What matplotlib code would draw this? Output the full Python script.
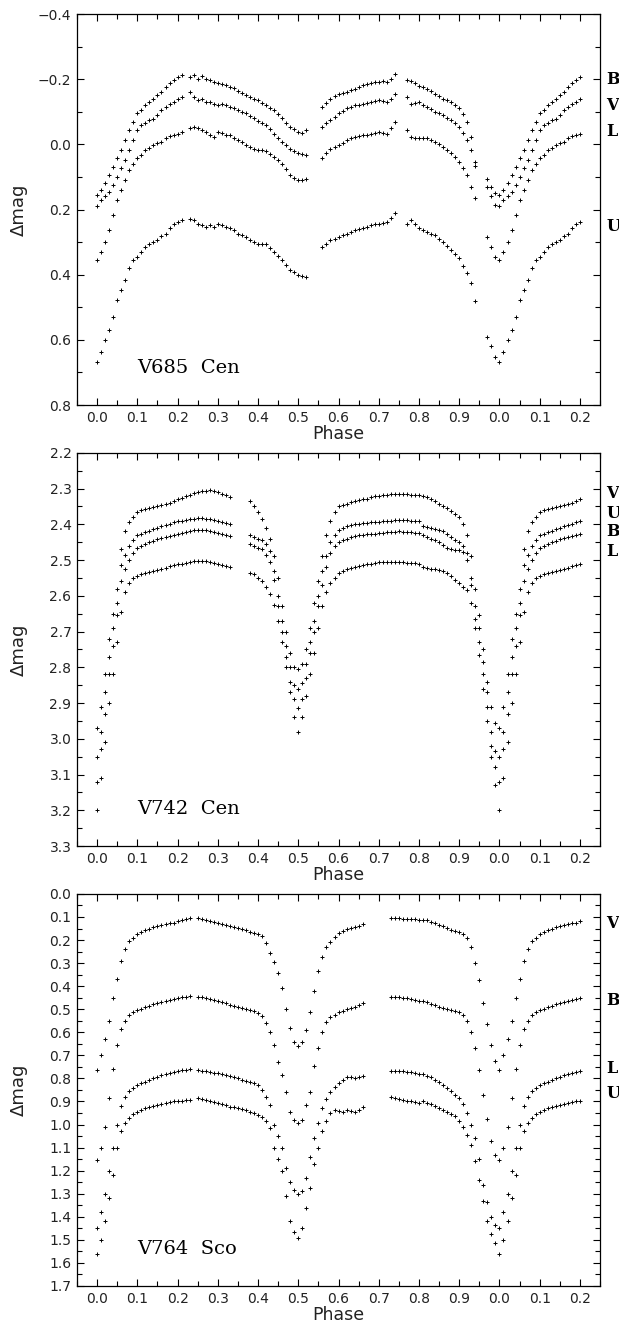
import numpy as np
import matplotlib
matplotlib.use("Agg")
import matplotlib.pyplot as plt
from matplotlib.ticker import MultipleLocator, FixedLocator

# ---- V685 Cen ----
ph_685 = [0.00, 0.01, 0.02, 0.03, 0.04, 0.05, 0.06, 0.07, 0.08, 0.09, 0.10,
          0.11, 0.12, 0.13, 0.14, 0.15, 0.16, 0.17, 0.18, 0.19, 0.20, 0.21,
          0.23, 0.24, 0.25, 0.26, 0.27, 0.28, 0.29, 0.30, 0.31, 0.32, 0.33,
          0.34, 0.35, 0.36, 0.37, 0.38, 0.39, 0.40, 0.41, 0.42, 0.43, 0.44,
          0.45, 0.46, 0.47, 0.48, 0.49, 0.50, 0.51, 0.52,
          0.56, 0.57, 0.58, 0.59, 0.60, 0.61, 0.62, 0.63, 0.64, 0.65, 0.66,
          0.67, 0.68, 0.69, 0.70, 0.71, 0.72, 0.73, 0.74,
          0.77, 0.78, 0.79, 0.80, 0.81, 0.82, 0.83, 0.84, 0.85, 0.86, 0.87,
          0.88, 0.89, 0.90, 0.91, 0.92, 0.93, 0.94,
          0.97, 0.98, 0.99]
B_685 = [0.156, 0.140, 0.120, 0.095, 0.070, 0.043, 0.018, -0.013, -0.043, -0.069, -0.095,
         -0.105, -0.120, -0.130, -0.140, -0.150, -0.160, -0.176, -0.187, -0.197, -0.207, -0.212,
         -0.207, -0.212, -0.200, -0.210, -0.200, -0.197, -0.190, -0.187, -0.185, -0.182, -0.177,
         -0.172, -0.165, -0.157, -0.150, -0.146, -0.140, -0.135, -0.128, -0.120, -0.112, -0.105,
         -0.092, -0.080, -0.067, -0.054, -0.046, -0.038, -0.036, -0.043,
         -0.115, -0.128, -0.140, -0.148, -0.156, -0.158, -0.161, -0.166, -0.171, -0.176, -0.182,
         -0.185, -0.187, -0.190, -0.192, -0.193, -0.190, -0.200, -0.215,
         -0.197, -0.195, -0.188, -0.180, -0.176, -0.171, -0.163, -0.156, -0.148, -0.140, -0.135,
         -0.130, -0.120, -0.110, -0.092, -0.069, -0.023, 0.055,
         0.105, 0.130, 0.150]
V_685 = [0.190, 0.170, 0.160, 0.146, 0.125, 0.100, 0.074, 0.049, 0.018, -0.013, -0.043,
         -0.059, -0.064, -0.074, -0.079, -0.090, -0.105, -0.115, -0.125, -0.130, -0.140, -0.146,
         -0.160, -0.146, -0.135, -0.140, -0.130, -0.130, -0.125, -0.120, -0.125, -0.120, -0.115,
         -0.110, -0.105, -0.100, -0.095, -0.088, -0.080, -0.072, -0.066, -0.060, -0.047, -0.033,
         -0.020, -0.008, 0.003, 0.013, 0.020, 0.028, 0.030, 0.033,
         -0.054, -0.064, -0.074, -0.085, -0.095, -0.103, -0.110, -0.115, -0.120, -0.122, -0.125,
         -0.128, -0.130, -0.133, -0.136, -0.134, -0.130, -0.140, -0.156,
         -0.146, -0.125, -0.128, -0.130, -0.122, -0.115, -0.108, -0.100, -0.095, -0.090, -0.082,
         -0.074, -0.064, -0.054, -0.035, -0.013, 0.018, 0.065,
         0.130, 0.160, 0.185]
L_685 = [0.355, 0.330, 0.300, 0.263, 0.217, 0.171, 0.140, 0.110, 0.079, 0.059, 0.043,
         0.033, 0.018, 0.010, 0.003, -0.005, -0.008, -0.018, -0.025, -0.028, -0.033, -0.038,
         -0.049, -0.054, -0.049, -0.043, -0.038, -0.028, -0.023, -0.038, -0.035, -0.028, -0.028,
         -0.018, -0.013, -0.008, 0.003, 0.008, 0.013, 0.018, 0.018, 0.020, 0.029, 0.038,
         0.048, 0.059, 0.077, 0.095, 0.103, 0.110, 0.108, 0.105,
         0.043, 0.028, 0.013, 0.008, 0.003, -0.005, -0.013, -0.018, -0.023, -0.025, -0.028,
         -0.030, -0.033, -0.035, -0.038, -0.036, -0.033, -0.050, -0.070,
         -0.043, -0.023, -0.020, -0.018, -0.018, -0.018, -0.013, -0.008, 0.000, 0.008, 0.018,
         0.028, 0.040, 0.054, 0.073, 0.095, 0.130, 0.166,
         0.284, 0.315, 0.345]
U_685 = [0.668, 0.637, 0.600, 0.570, 0.530, 0.478, 0.448, 0.417, 0.380, 0.355, 0.345,
         0.330, 0.315, 0.305, 0.300, 0.294, 0.280, 0.274, 0.258, 0.243, 0.238, 0.233,
         0.228, 0.233, 0.243, 0.248, 0.253, 0.248, 0.253, 0.243, 0.248, 0.253, 0.258,
         0.263, 0.274, 0.279, 0.284, 0.294, 0.300, 0.305, 0.305, 0.305, 0.318, 0.330,
         0.343, 0.355, 0.370, 0.386, 0.393, 0.400, 0.404, 0.407,
         0.315, 0.305, 0.294, 0.289, 0.284, 0.279, 0.274, 0.268, 0.263, 0.260, 0.258,
         0.253, 0.248, 0.245, 0.243, 0.240, 0.238, 0.225, 0.210,
         0.243, 0.233, 0.245, 0.258, 0.263, 0.268, 0.274, 0.279, 0.290, 0.300, 0.312,
         0.325, 0.338, 0.350, 0.373, 0.396, 0.427, 0.480,
         0.590, 0.620, 0.652]

# ---- V742 Cen ----
ph_742 = [0.00, 0.01, 0.02, 0.03, 0.04, 0.05, 0.06, 0.07, 0.08, 0.09, 0.10, 0.11,
          0.12, 0.13, 0.14, 0.15, 0.16, 0.17, 0.18, 0.19, 0.20, 0.21, 0.22, 0.23,
          0.24, 0.25, 0.26, 0.27, 0.28, 0.29, 0.30, 0.31, 0.32, 0.33,
          0.38, 0.39, 0.40, 0.41, 0.42, 0.43, 0.44, 0.45, 0.46, 0.47, 0.48, 0.49,
          0.50, 0.51, 0.52, 0.53, 0.54, 0.55, 0.56, 0.57, 0.58, 0.59, 0.60, 0.61,
          0.62, 0.63, 0.64, 0.65, 0.66, 0.67, 0.68, 0.69, 0.70, 0.71, 0.72, 0.73,
          0.74, 0.75, 0.76, 0.77, 0.78, 0.79, 0.80, 0.81, 0.82, 0.83, 0.84, 0.85,
          0.86, 0.87, 0.88, 0.89, 0.90, 0.91, 0.92, 0.93, 0.94, 0.95, 0.96, 0.97,
          0.98, 0.99]
V_742 = [2.97, 2.91, 2.82, 2.72, 2.65, 2.58, 2.47, 2.42, 2.395, 2.38, 2.365, 2.36,
         2.357, 2.354, 2.352, 2.35, 2.347, 2.344, 2.34, 2.335, 2.33, 2.326, 2.322, 2.318,
         2.313, 2.31, 2.308, 2.306, 2.305, 2.307, 2.31, 2.314, 2.318, 2.323,
         2.335, 2.35, 2.365, 2.385, 2.41, 2.44, 2.49, 2.55, 2.63, 2.70, 2.76, 2.80,
         2.805, 2.79, 2.75, 2.69, 2.62, 2.56, 2.49, 2.43, 2.39, 2.365, 2.35, 2.346,
         2.342, 2.338, 2.335, 2.333, 2.33, 2.328, 2.325, 2.322, 2.32, 2.318, 2.317, 2.316,
         2.315, 2.314, 2.315, 2.316, 2.317, 2.318, 2.318, 2.32, 2.325, 2.33, 2.336, 2.342,
         2.348, 2.355, 2.363, 2.37, 2.379, 2.40, 2.43, 2.49, 2.58, 2.654, 2.75, 2.84,
         2.91, 2.955]
U_742 = [3.05, 2.98, 2.87, 2.77, 2.69, 2.62, 2.515, 2.485, 2.46, 2.445, 2.43, 2.426,
         2.422, 2.418, 2.414, 2.41, 2.406, 2.402, 2.398, 2.395, 2.392, 2.39, 2.388, 2.386,
         2.384, 2.383, 2.383, 2.384, 2.386, 2.388, 2.39, 2.393, 2.396, 2.40,
         2.43, 2.435, 2.44, 2.445, 2.455, 2.475, 2.53, 2.60, 2.67, 2.74, 2.80, 2.85,
         2.86, 2.845, 2.79, 2.73, 2.67, 2.60, 2.53, 2.49, 2.45, 2.43, 2.416, 2.41,
         2.405, 2.402, 2.40, 2.398, 2.397, 2.396, 2.395, 2.394, 2.393, 2.392, 2.391, 2.39,
         2.389, 2.388, 2.388, 2.389, 2.39, 2.39, 2.392, 2.405, 2.408, 2.41, 2.413, 2.416,
         2.42, 2.426, 2.435, 2.443, 2.45, 2.46, 2.48, 2.55, 2.63, 2.69, 2.785, 2.87,
         2.98, 3.035]
B_742 = [3.12, 3.03, 2.93, 2.82, 2.74, 2.655, 2.56, 2.525, 2.50, 2.48, 2.467, 2.46,
         2.455, 2.45, 2.446, 2.442, 2.438, 2.435, 2.432, 2.43, 2.427, 2.424, 2.421, 2.419,
         2.417, 2.416, 2.416, 2.417, 2.419, 2.421, 2.424, 2.426, 2.429, 2.432,
         2.455, 2.46, 2.465, 2.47, 2.485, 2.505, 2.555, 2.63, 2.70, 2.77, 2.84, 2.89,
         2.915, 2.89, 2.83, 2.76, 2.70, 2.63, 2.57, 2.52, 2.48, 2.46, 2.45, 2.445,
         2.44, 2.436, 2.433, 2.43, 2.429, 2.428, 2.427, 2.426, 2.425, 2.424, 2.423, 2.422,
         2.421, 2.42, 2.421, 2.422, 2.423, 2.424, 2.425, 2.43, 2.435, 2.44, 2.445, 2.45,
         2.457, 2.465, 2.47, 2.471, 2.472, 2.477, 2.50, 2.57, 2.665, 2.73, 2.82, 2.91,
         3.02, 3.08]
L_742 = [3.20, 3.11, 3.01, 2.90, 2.82, 2.73, 2.645, 2.59, 2.565, 2.55, 2.545, 2.54,
         2.537, 2.534, 2.53, 2.527, 2.524, 2.521, 2.518, 2.515, 2.512, 2.51, 2.507, 2.505,
         2.503, 2.502, 2.502, 2.503, 2.505, 2.508, 2.511, 2.514, 2.517, 2.52,
         2.535, 2.54, 2.55, 2.56, 2.575, 2.595, 2.625, 2.67, 2.73, 2.80, 2.87, 2.94,
         2.98, 2.94, 2.88, 2.82, 2.76, 2.69, 2.63, 2.59, 2.565, 2.55, 2.537, 2.53,
         2.525, 2.522, 2.52, 2.518, 2.515, 2.512, 2.51, 2.507, 2.505, 2.505, 2.505, 2.505,
         2.505, 2.505, 2.506, 2.507, 2.508, 2.509, 2.51, 2.52, 2.522, 2.524, 2.526, 2.528,
         2.532, 2.537, 2.545, 2.555, 2.565, 2.575, 2.585, 2.62, 2.69, 2.766, 2.86, 2.95,
         3.05, 3.13]

# ---- V764 Sco ----
ph_764 = [0.00, 0.01, 0.02, 0.03, 0.04, 0.05, 0.06, 0.07, 0.08, 0.09, 0.10, 0.11,
          0.12, 0.13, 0.14, 0.15, 0.16, 0.17, 0.18, 0.19, 0.20, 0.21, 0.22, 0.23,
          0.25, 0.26, 0.27, 0.28, 0.29, 0.30, 0.31, 0.32, 0.33, 0.34, 0.35, 0.36,
          0.37, 0.38, 0.39, 0.40, 0.41, 0.42, 0.43, 0.44, 0.45, 0.46, 0.47, 0.48,
          0.49, 0.50, 0.51, 0.52, 0.53, 0.54, 0.55, 0.56, 0.57, 0.58, 0.59, 0.60,
          0.61, 0.62, 0.63, 0.64, 0.65, 0.66,
          0.73, 0.74, 0.75, 0.76, 0.77, 0.78, 0.79, 0.80, 0.81, 0.82, 0.83, 0.84,
          0.85, 0.86, 0.87, 0.88, 0.89, 0.90, 0.91, 0.92, 0.93, 0.94, 0.95, 0.96,
          0.97, 0.98, 0.99]
V_764 = [0.765, 0.70, 0.63, 0.55, 0.45, 0.37, 0.29, 0.24, 0.205, 0.19, 0.175, 0.165,
         0.157, 0.150, 0.145, 0.140, 0.136, 0.132, 0.128, 0.124, 0.119, 0.115, 0.110, 0.106,
         0.105, 0.108, 0.112, 0.116, 0.121, 0.126, 0.130, 0.135, 0.139, 0.144, 0.149, 0.153,
         0.158, 0.163, 0.168, 0.174, 0.183, 0.215, 0.255, 0.295, 0.345, 0.410, 0.500, 0.580,
         0.640, 0.660, 0.640, 0.590, 0.510, 0.420, 0.335, 0.275, 0.230, 0.207, 0.185, 0.170,
         0.160, 0.153, 0.148, 0.143, 0.138, 0.132,
         0.105, 0.105, 0.106, 0.107, 0.108, 0.109, 0.110, 0.111, 0.112, 0.114, 0.120, 0.127,
         0.134, 0.141, 0.148, 0.155, 0.160, 0.165, 0.172, 0.190, 0.230, 0.300, 0.375, 0.475,
         0.565, 0.655, 0.725]
B_764 = [1.155, 1.10, 1.01, 0.885, 0.76, 0.655, 0.585, 0.55, 0.527, 0.513, 0.503, 0.497,
         0.491, 0.485, 0.479, 0.474, 0.469, 0.465, 0.460, 0.456, 0.452, 0.449, 0.446, 0.444,
         0.445, 0.448, 0.452, 0.456, 0.461, 0.466, 0.470, 0.475, 0.480, 0.484, 0.489, 0.493,
         0.498, 0.503, 0.507, 0.515, 0.530, 0.560, 0.597, 0.655, 0.727, 0.785, 0.860, 0.944,
         0.980, 0.994, 0.980, 0.915, 0.857, 0.745, 0.670, 0.600, 0.556, 0.535, 0.523, 0.514,
         0.507, 0.501, 0.496, 0.490, 0.482, 0.474,
         0.445, 0.446, 0.448, 0.450, 0.452, 0.455, 0.459, 0.463, 0.466, 0.470, 0.476, 0.482,
         0.489, 0.493, 0.498, 0.502, 0.507, 0.512, 0.525, 0.553, 0.600, 0.670, 0.765, 0.870,
         0.975, 1.070, 1.130]
L_764 = [1.45, 1.38, 1.30, 1.20, 1.10, 1.00, 0.92, 0.88, 0.855, 0.84, 0.83, 0.822,
         0.815, 0.808, 0.80, 0.793, 0.787, 0.782, 0.777, 0.772, 0.768, 0.765, 0.762, 0.760,
         0.763, 0.766, 0.769, 0.772, 0.775, 0.778, 0.782, 0.786, 0.791, 0.795, 0.800, 0.805,
         0.810, 0.815, 0.822, 0.830, 0.850, 0.880, 0.915, 1.000, 1.050, 1.100, 1.190, 1.250,
         1.285, 1.300, 1.290, 1.230, 1.140, 1.060, 0.995, 0.930, 0.890, 0.860, 0.838, 0.820,
         0.808, 0.795, 0.795, 0.800, 0.795, 0.790,
         0.770, 0.768, 0.768, 0.770, 0.772, 0.774, 0.777, 0.780, 0.783, 0.788, 0.796, 0.805,
         0.814, 0.827, 0.840, 0.853, 0.870, 0.887, 0.910, 0.948, 1.000, 1.060, 1.150, 1.260,
         1.335, 1.400, 1.435]
U_764 = [1.56, 1.50, 1.42, 1.32, 1.22, 1.10, 1.03, 0.995, 0.97, 0.955, 0.945, 0.937,
         0.930, 0.925, 0.920, 0.915, 0.910, 0.906, 0.903, 0.900, 0.898, 0.896, 0.894, 0.892,
         0.886, 0.890, 0.895, 0.899, 0.904, 0.908, 0.913, 0.917, 0.922, 0.926, 0.930, 0.934,
         0.938, 0.944, 0.950, 0.958, 0.968, 0.985, 1.016, 1.100, 1.150, 1.200, 1.310, 1.420,
         1.464, 1.490, 1.450, 1.363, 1.276, 1.170, 1.100, 1.030, 0.985, 0.950, 0.935, 0.940,
         0.945, 0.937, 0.940, 0.944, 0.935, 0.925,
         0.880, 0.885, 0.890, 0.893, 0.896, 0.899, 0.902, 0.905, 0.900, 0.905, 0.912, 0.920,
         0.930, 0.937, 0.945, 0.953, 0.965, 0.985, 1.010, 1.045, 1.090, 1.160, 1.240, 1.330,
         1.420, 1.475, 1.515]

xtick_pos = [0.0, 0.1, 0.2, 0.3, 0.4, 0.5, 0.6, 0.7, 0.8, 0.9, 1.0, 1.1, 1.2]
xtick_lab = ["0.0", "0.1", "0.2", "0.3", "0.4", "0.5", "0.6", "0.7", "0.8", "0.9",
             "0.0", "0.1", "0.2"]

panels = [
    dict(name="V685  Cen", phase=ph_685, bands=[B_685, V_685, L_685, U_685],
         labels=[("B", -0.20), ("V", -0.12), ("L", -0.04), ("U", 0.253)],
         ylim=(0.8, -0.4), ymaj=0.2, ymin=0.1,
         rect=[0.1244, 0.6964, 0.845, 0.2931]),
    dict(name="V742  Cen", phase=ph_742, bands=[V_742, U_742, B_742, L_742],
         labels=[("V", 2.314), ("U", 2.37), ("B", 2.42), ("L", 2.477)],
         ylim=(3.3, 2.2), ymaj=0.1, ymin=0.05,
         rect=[0.1244, 0.3658, 0.845, 0.2948]),
    dict(name="V764  Sco", phase=ph_764, bands=[V_764, B_764, L_764, U_764],
         labels=[("V", 0.127), ("B", 0.46), ("L", 0.756), ("U", 0.864)],
         ylim=(1.7, 0.0), ymaj=0.1, ymin=0.05,
         rect=[0.1244, 0.0360, 0.845, 0.2939]),
]

fig = plt.figure(figsize=(6.19, 13.34), dpi=100)

for p in panels:
    ax = fig.add_axes(p["rect"])
    ph = np.array(p["phase"])
    wrap = ph <= 0.2001          # phases 0.0-0.2 are shown again after 1.0
    for mag in p["bands"]:
        m = np.array(mag)
        ax.plot(ph, m, "+", color="black", ms=3.2, mew=0.7)
        ax.plot(ph[wrap] + 1.0, m[wrap], "+", color="black", ms=3.2, mew=0.7)

    ax.set_xlim(-0.05, 1.25)
    ax.set_ylim(*p["ylim"])
    ax.xaxis.set_major_locator(FixedLocator(xtick_pos))
    ax.set_xticklabels(xtick_lab)
    ax.xaxis.set_minor_locator(MultipleLocator(0.05))
    ax.yaxis.set_major_locator(MultipleLocator(p["ymaj"]))
    ax.yaxis.set_minor_locator(MultipleLocator(p["ymin"]))
    ax.tick_params(which="both", direction="in", top=True, right=True,
                   labelsize=10, width=0.8, pad=4, labelcolor="#222222")
    ax.tick_params(which="major", length=5)
    ax.tick_params(which="minor", length=3.5)
    for s in ax.spines.values():
        s.set_linewidth(0.9)

    ax.set_xlabel("Phase", fontsize=12.5, color="#222222")
    ax.set_ylabel("Δmag", fontsize=13, color="#222222")
    ax.xaxis.set_label_coords(0.5, -0.052)
    ax.yaxis.set_label_coords(-0.094, 0.5)

    ax.text(0.115, 0.095, p["name"], transform=ax.transAxes, fontsize=14,
            family="DejaVu Serif", ha="left", va="center")
    for lab, y in p["labels"]:
        ax.text(1.012, y, lab, transform=ax.get_yaxis_transform(), fontsize=11.5,
                family="DejaVu Serif", fontweight="bold", ha="left", va="center")

fig.savefig("out.png", dpi=100)
